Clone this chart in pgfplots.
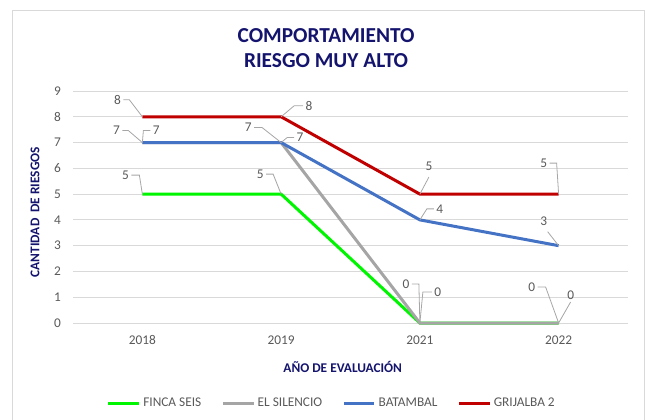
\documentclass[border=0pt]{standalone}
\usepackage{fontspec}
\setmainfont{Carlito}
\usepackage{pgfplots}
\pgfplotsset{compat=1.18}
\definecolor{navy}{RGB}{20,20,110}
\definecolor{tickgray}{RGB}{89,89,89}
\definecolor{leadgray}{RGB}{166,166,166}
\definecolor{gridgray}{RGB}{217,217,217}
\definecolor{cgreen}{RGB}{0,245,0}
\definecolor{cgray}{RGB}{165,165,165}
\definecolor{cblue}{RGB}{68,114,196}
\definecolor{cred}{RGB}{192,0,0}
\newcommand{\lab}[8]{%
 \draw[leadgray, line width=0.6pt] (axis cs:#1,#2) -- ([shift={({#3*0.75pt},{#4*0.75pt})}]axis cs:#1,#2) -- ([shift={({#5*0.75pt},{#6*0.75pt})}]axis cs:#1,#2) node[#7, inner sep=1.5pt, text=tickgray, font=\fontsize{10}{12}\selectfont] {#8};}
\begin{document}
\begin{tikzpicture}
\useasboundingbox (-54.75pt,-72pt) rectangle (429pt,242.25pt);
\draw[gridgray, line width=0.75pt] (-45pt,-82.5pt) rectangle (428.25pt,234.75pt);
\begin{axis}[
  at={(0,0)}, anchor=south west,
  scale only axis, width=416.25pt, height=174pt,
  xmin=-0.5, xmax=3.5, ymin=0, ymax=9,
  xtick={0,1,2,3}, xticklabels={2018,2019,2021,2022},
  ytick={0,1,...,9},
  axis line style={draw=none},
  major tick length=0pt,
  ymajorgrids, grid style={gridgray, line width=0.75pt},
  tick label style={text=tickgray, font=\fontsize{10}{12}\selectfont},
  /pgf/number format/assume math mode=true,
  yticklabel style={xshift=-5.5pt},
  xticklabel style={yshift=-6pt},
  clip=false,
  title={COMPORTAMIENTO\\RIESGO MUY ALTO},
  title style={at={(axis description cs:0.456,1.15)}, anchor=center, align=center, text=navy, font=\fontsize{16}{18.75}\selectfont\bfseries},
  xlabel={AÑO DE EVALUACIÓN},
  xlabel style={at={(axis description cs:0.486,-0.19)}, anchor=center, text=navy, font=\fontsize{10}{12}\selectfont\bfseries},
  ylabel={CANTIDAD\ \ DE RIESGOS},
  ylabel style={at={(axis description cs:-0.0685,0.478)}, anchor=center, rotate=0, text=navy, font=\fontsize{10}{12}\selectfont\bfseries},
  legend columns=4,
  legend style={at={(axis description cs:0.467,-0.345)}, anchor=center, draw=none, fill=none,
    font=\fontsize{10}{12}\selectfont, text=tickgray,
    /tikz/every even column/.append style={column sep=13pt},
    /tikz/every odd column/.append style={column sep=0pt}},
  legend image code/.code={\draw[#1] (0pt,0pt) -- (23pt,0pt);},
  legend cell align=left,
]
\addplot[cgreen, line width=2.25pt] coordinates {(0,5) (1,5) (2,0) (3,0)};
\addplot[cgray, line width=2.25pt] coordinates {(0,7) (1,7) (2,0) (3,0)};
\addplot[cblue, line width=2.25pt] coordinates {(0,7) (1,7) (2,4) (3,3)};
\addplot[cred, line width=2.25pt] coordinates {(0,8) (1,8) (2,5) (3,5)};
\legend{FINCA SEIS, EL SILENCIO, BATAMBAL, GRIJALBA 2}
% labels
\lab{0}{8}{-13}{17}{-19}{17}{anchor=east}{8}
\lab{1}{8}{13}{11}{22}{11}{anchor=west}{8}
\lab{2}{5}{9}{17}{9}{17}{anchor=south, yshift=3pt}{5}
\lab{3}{5}{-2}{31}{-9}{31}{anchor=east}{5}
\lab{0}{7}{-14}{12}{-20}{12}{anchor=east}{7}
\lab{1}{7}{6}{5}{13}{5}{anchor=west}{7}
\lab{2}{4}{7}{11}{14}{11}{anchor=west}{4}
\lab{3}{3}{-11}{14}{-11}{14}{anchor=south, xshift=-3pt, yshift=3pt}{3}
\lab{0}{7}{1}{12}{8}{12}{anchor=west}{7}
\lab{1}{7}{-19}{15}{-27}{15}{anchor=east}{7}
\lab{2}{0}{-1}{39}{-8}{39}{anchor=east}{0}
\lab{3}{0}{-13}{36}{-21}{36}{anchor=east}{0}
\lab{0}{5}{-3}{19}{-11}{19}{anchor=east}{5}
\lab{1}{5}{-8}{20}{-15}{20}{anchor=east}{5}
\lab{2}{0}{3}{31}{12}{31}{anchor=west}{0}
\lab{3}{0}{12}{21}{12}{21}{anchor=south}{0}
\end{axis}
\end{tikzpicture}
\end{document}
